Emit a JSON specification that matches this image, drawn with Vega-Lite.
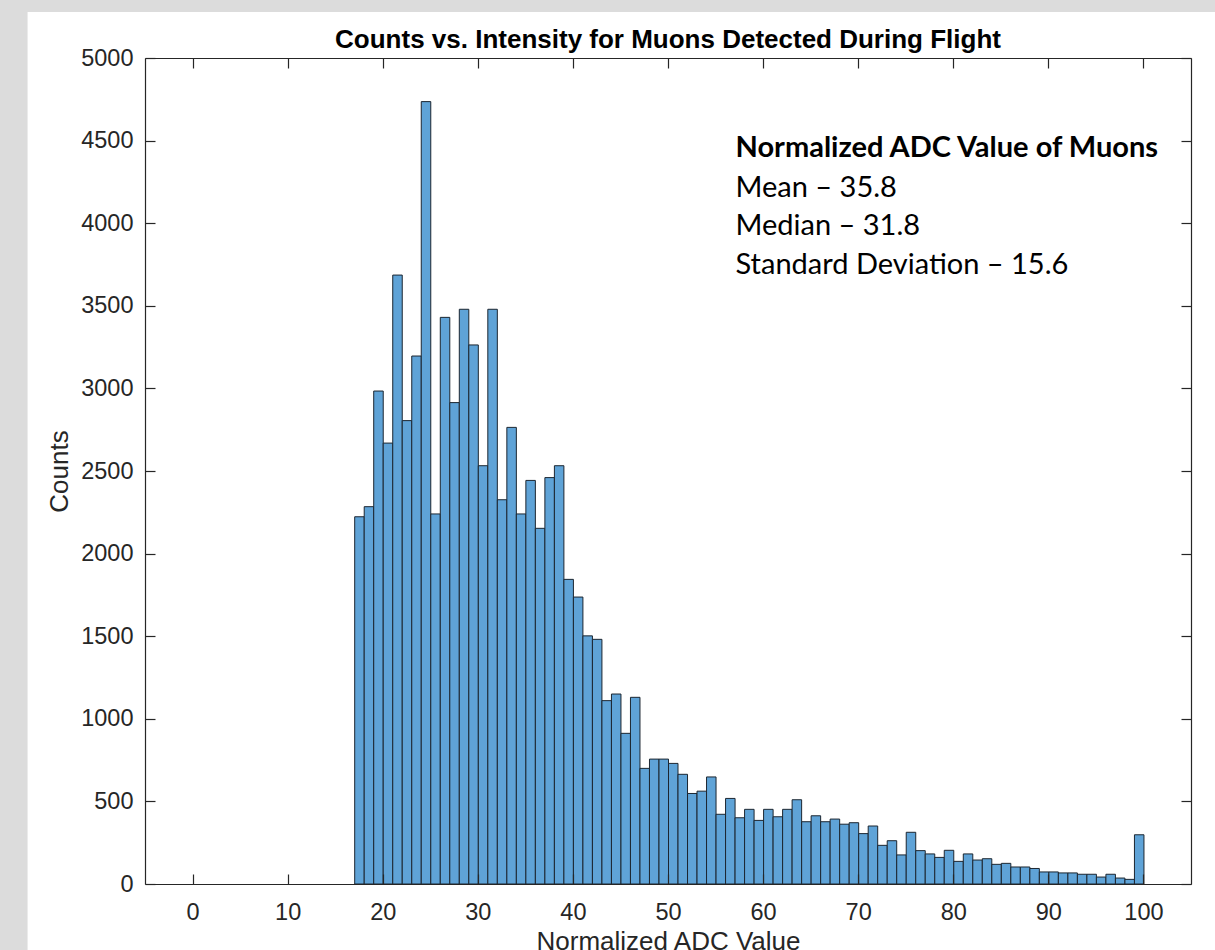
{
  "$schema": "https://vega.github.io/schema/vega-lite/v6.json",
  "width": 1046,
  "height": 826,
  "autosize": "none",
  "padding": {"left": 145, "top": 58, "right": 24, "bottom": 66},
  "background": "#dcdcdc",
  "view": {"stroke": null},
  "title": {
    "text": "Counts vs. Intensity for Muons Detected During Flight",
    "font": "Liberation Sans",
    "fontSize": 26,
    "fontWeight": "bold",
    "color": "#000000",
    "anchor": "middle",
    "frame": "group",
    "offset": -41,
    "zindex": 2
  },
  "datasets": {
    "hist": [
      {"start": 17, "end": 18, "count": 2223},
      {"start": 18, "end": 19, "count": 2284},
      {"start": 19, "end": 20, "count": 2984},
      {"start": 20, "end": 21, "count": 2669},
      {"start": 21, "end": 22, "count": 3686},
      {"start": 22, "end": 23, "count": 2805},
      {"start": 23, "end": 24, "count": 3196},
      {"start": 24, "end": 25, "count": 4736},
      {"start": 25, "end": 26, "count": 2240},
      {"start": 26, "end": 27, "count": 3430},
      {"start": 27, "end": 28, "count": 2914},
      {"start": 28, "end": 29, "count": 3479},
      {"start": 29, "end": 30, "count": 3263},
      {"start": 30, "end": 31, "count": 2532},
      {"start": 31, "end": 32, "count": 3479},
      {"start": 32, "end": 33, "count": 2326},
      {"start": 33, "end": 34, "count": 2764},
      {"start": 34, "end": 35, "count": 2240},
      {"start": 35, "end": 36, "count": 2443},
      {"start": 36, "end": 37, "count": 2153},
      {"start": 37, "end": 38, "count": 2460},
      {"start": 38, "end": 39, "count": 2532},
      {"start": 39, "end": 40, "count": 1844},
      {"start": 40, "end": 41, "count": 1737},
      {"start": 41, "end": 42, "count": 1502},
      {"start": 42, "end": 43, "count": 1481},
      {"start": 43, "end": 44, "count": 1110},
      {"start": 44, "end": 45, "count": 1150},
      {"start": 45, "end": 46, "count": 912},
      {"start": 46, "end": 47, "count": 1130},
      {"start": 47, "end": 48, "count": 700},
      {"start": 48, "end": 49, "count": 756},
      {"start": 49, "end": 50, "count": 756},
      {"start": 50, "end": 51, "count": 730},
      {"start": 51, "end": 52, "count": 664},
      {"start": 52, "end": 53, "count": 548},
      {"start": 53, "end": 54, "count": 562},
      {"start": 54, "end": 55, "count": 648},
      {"start": 55, "end": 56, "count": 422},
      {"start": 56, "end": 57, "count": 518},
      {"start": 57, "end": 58, "count": 401},
      {"start": 58, "end": 59, "count": 452},
      {"start": 59, "end": 60, "count": 385},
      {"start": 60, "end": 61, "count": 452},
      {"start": 61, "end": 62, "count": 407},
      {"start": 62, "end": 63, "count": 452},
      {"start": 63, "end": 64, "count": 510},
      {"start": 64, "end": 65, "count": 377},
      {"start": 65, "end": 66, "count": 413},
      {"start": 66, "end": 67, "count": 377},
      {"start": 67, "end": 68, "count": 393},
      {"start": 68, "end": 69, "count": 362},
      {"start": 69, "end": 70, "count": 371},
      {"start": 70, "end": 71, "count": 305},
      {"start": 71, "end": 72, "count": 351},
      {"start": 72, "end": 73, "count": 234},
      {"start": 73, "end": 74, "count": 262},
      {"start": 74, "end": 75, "count": 176},
      {"start": 75, "end": 76, "count": 313},
      {"start": 76, "end": 77, "count": 202},
      {"start": 77, "end": 78, "count": 182},
      {"start": 78, "end": 79, "count": 161},
      {"start": 79, "end": 80, "count": 204},
      {"start": 80, "end": 81, "count": 137},
      {"start": 81, "end": 82, "count": 182},
      {"start": 82, "end": 83, "count": 145},
      {"start": 83, "end": 84, "count": 153},
      {"start": 84, "end": 85, "count": 119},
      {"start": 85, "end": 86, "count": 125},
      {"start": 86, "end": 87, "count": 103},
      {"start": 87, "end": 88, "count": 103},
      {"start": 88, "end": 89, "count": 94},
      {"start": 89, "end": 90, "count": 73},
      {"start": 90, "end": 91, "count": 73},
      {"start": 91, "end": 92, "count": 67},
      {"start": 92, "end": 93, "count": 67},
      {"start": 93, "end": 94, "count": 59},
      {"start": 94, "end": 95, "count": 59},
      {"start": 95, "end": 96, "count": 42},
      {"start": 96, "end": 97, "count": 59},
      {"start": 97, "end": 98, "count": 36},
      {"start": 98, "end": 99, "count": 28},
      {"start": 99, "end": 100, "count": 298}
    ]
  },
  "layer": [
    {
      "data": {"values": [{}]},
      "mark": {"type": "rect", "color": "#ffffff", "clip": false},
      "encoding": {
        "x": {"datum": -17.35, "type": "quantitative", "scale": {"domain": [-5, 105], "nice": false, "zero": false}, "axis": null},
        "x2": {"datum": 108},
        "y": {"datum": 5278, "type": "quantitative", "scale": {"domain": [0, 5000], "nice": false}, "axis": null},
        "y2": {"datum": -420}
      }
    },
    {
      "data": {"name": "hist"},
      "mark": {"type": "bar", "fill": "#5fa3d7", "stroke": "#1c2630", "strokeWidth": 1, "binSpacing": 0, "clip": false},
      "encoding": {
        "x": {
          "field": "start", "type": "quantitative", "bin": {"binned": true, "step": 1},
          "scale": {"domain": [-5, 105], "nice": false, "zero": false},
          "axis": {
            "orient": "bottom", "zindex": 1, "values": [0, 10, 20, 30, 40, 50, 60, 70, 80, 90, 100], "format": "d",
            "grid": false, "domain": true, "domainColor": "#262626", "domainWidth": 1.2,
            "ticks": true, "tickSize": -10, "tickColor": "#262626", "tickWidth": 1.2,
            "labelFont": "Liberation Sans", "labelFontSize": 23.5, "labelColor": "#262626", "labelPadding": 26,
            "title": "Normalized ADC Value", "titleFont": "Liberation Sans", "titleFontSize": 26,
            "titleFontWeight": "normal", "titleColor": "#262626", "titlePadding": 5
          }
        },
        "x2": {"field": "end"},
        "y": {
          "field": "count", "type": "quantitative",
          "scale": {"domain": [0, 5000], "nice": false},
          "axis": {
            "orient": "left", "zindex": 1, "values": [0, 500, 1000, 1500, 2000, 2500, 3000, 3500, 4000, 4500, 5000], "format": "d",
            "grid": false, "domain": true, "domainColor": "#262626", "domainWidth": 1.2,
            "ticks": true, "tickSize": -10, "tickColor": "#262626", "tickWidth": 1.2,
            "labelFont": "Liberation Sans", "labelFontSize": 23.5, "labelColor": "#262626", "labelPadding": 22,
            "title": "Counts", "titleFont": "Liberation Sans", "titleFontSize": 26,
            "titleFontWeight": "normal", "titleColor": "#262626", "titlePadding": 8
          }
        }
      }
    },
    {
      "data": {"name": "hist"},
      "mark": {"type": "bar", "opacity": 0, "binSpacing": 0},
      "encoding": {
        "x": {
          "field": "start", "type": "quantitative", "bin": {"binned": true, "step": 1},
          "scale": {"domain": [-5, 105], "nice": false, "zero": false},
          "axis": {
            "orient": "top", "zindex": 1, "values": [0, 10, 20, 30, 40, 50, 60, 70, 80, 90, 100],
            "grid": false, "domain": true, "domainColor": "#262626", "domainWidth": 1.2,
            "ticks": true, "tickSize": -10, "tickColor": "#262626", "tickWidth": 1.2,
            "labels": false, "title": null
          }
        },
        "x2": {"field": "end"},
        "y": {
          "field": "count", "type": "quantitative",
          "scale": {"domain": [0, 5000], "nice": false},
          "axis": {
            "orient": "right", "zindex": 1, "values": [0, 500, 1000, 1500, 2000, 2500, 3000, 3500, 4000, 4500, 5000],
            "grid": false, "domain": true, "domainColor": "#262626", "domainWidth": 1.2,
            "ticks": true, "tickSize": -10, "tickColor": "#262626", "tickWidth": 1.2,
            "labels": false, "title": null
          }
        }
      }
    },
    {
      "data": {"values": [{}]},
      "mark": {"type": "text", "text": "Normalized ADC Value of Muons", "font": "Lato", "fontWeight": "bold", "fontSize": 29, "align": "left", "baseline": "alphabetic", "color": "#000000"},
      "encoding": {
        "x": {"datum": 57.1, "type": "quantitative", "scale": {"domain": [-5, 105], "nice": false, "zero": false}, "axis": null},
        "y": {"datum": 4401, "type": "quantitative", "scale": {"domain": [0, 5000], "nice": false}, "axis": null}
      }
    },
    {
      "data": {"values": [{}]},
      "mark": {"type": "text", "text": ["Mean – 35.8", "Median – 31.8", "Standard Deviation – 15.6"], "font": "Lato", "fontSize": 29, "lineHeight": 38.5, "align": "left", "baseline": "alphabetic", "color": "#000000"},
      "encoding": {
        "x": {"datum": 57.1, "type": "quantitative", "scale": {"domain": [-5, 105], "nice": false, "zero": false}, "axis": null},
        "y": {"datum": 4159, "type": "quantitative", "scale": {"domain": [0, 5000], "nice": false}, "axis": null}
      }
    }
  ],
  "resolve": {"axis": {"x": "independent", "y": "independent"}}
}
